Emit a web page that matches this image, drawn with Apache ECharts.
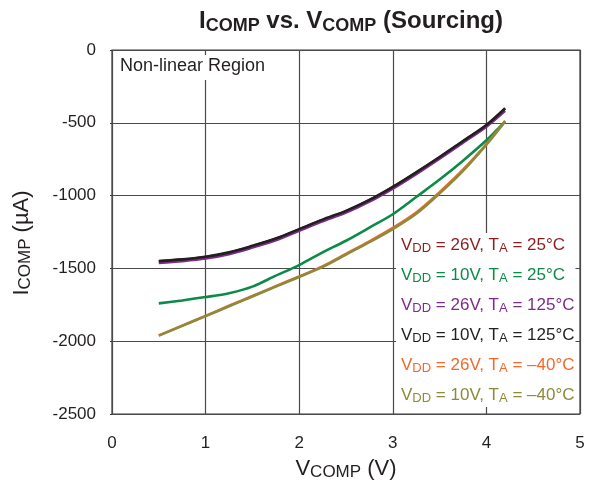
<!DOCTYPE html>
<html><head><meta charset="utf-8">
<script src="https://cdn.jsdelivr.net/npm/echarts@6/dist/echarts.min.js"></script>
<style>html,body{margin:0;padding:0;background:#fff}#c{width:594px;height:489px}</style>
</head><body><div id="c"></div>
<script>
const vcomp = [0.5,0.75,1,1.25,1.5,1.75,2,2.25,2.5,2.75,3,3.25,3.5,3.75,4,4.2];
const i26v25c  = [-1452,-1440,-1422,-1392,-1347,-1297,-1232,-1167,-1107,-1032,-942,-842,-737,-627,-517,-403];
const i10v25c  = [-1740,-1720,-1697,-1670,-1625,-1550,-1477,-1390,-1310,-1220,-1128,-1010,-890,-760,-620,-490];
const i26v125c = [-1463,-1450,-1432,-1402,-1357,-1307,-1242,-1177,-1117,-1042,-952,-852,-747,-637,-527,-418];
const i10v125c = [-1450,-1438,-1420,-1390,-1345,-1295,-1230,-1165,-1105,-1030,-940,-840,-735,-625,-515,-400];
const i26vm40c = [-1960,-1893,-1826,-1757,-1690,-1622,-1555,-1486,-1400,-1314,-1222,-1116,-976,-822,-646,-488];
const i10vm40c = [-1962,-1895,-1828,-1760,-1693,-1625,-1559,-1490,-1405,-1320,-1230,-1125,-985,-830,-650,-490];
const xTicks = [0,1,2,3,4,5];
const yTicks = [0,-500,-1000,-1500,-2000,-2500];

const seriesDefs = [
  {name:'26V|25°C', data:i26v25c, color:'#8c1c1f'},
  {name:'10V|25°C', data:i10v25c, color:'#0b8a48'},
  {name:'26V|125°C', data:i26v125c, color:'#7d2b8b'},
  {name:'10V|125°C', data:i10v125c, color:'#231f20'},
  {name:'26V|–40°C', data:i26vm40c, color:'#f26a2b'},
  {name:'10V|–40°C', data:i10vm40c, color:'#8c8a3b'}
];
const font = '"Liberation Sans", Arial, sans-serif';
const chart = echarts.init(document.getElementById('c'));
chart.setOption({
  animation:false,
  textStyle:{fontFamily:font},
  title:[{
    text:'{a|I}{b|COMP}{a| vs. V}{b|COMP}{a| (Sourcing)}',
    left:346, textAlign:'center', top:2,
    textStyle:{rich:{
      a:{fontSize:24,fontWeight:'bold',color:'#231f20',fontFamily:font,lineHeight:28},
      b:{fontSize:18,fontWeight:'bold',color:'#231f20',fontFamily:font,lineHeight:16,verticalAlign:'bottom'}
    }}
  },{
    text:'Non-linear Region', left:117, top:55,
    backgroundColor:'#fff', padding:[1,3,4,3],
    textStyle:{fontSize:18,fontWeight:'normal',color:'#231f20',fontFamily:font,lineHeight:20}
  }],
  grid:{left:112,right:14,top:50,bottom:75,show:true,borderColor:'#3a3a3a',borderWidth:1.2,backgroundColor:'transparent'},
  xAxis:{type:'value',min:0,max:5,interval:1,
    name:'{a|V}{b|COMP}{a| (V)}', nameLocation:'middle', nameGap:42,
    nameTextStyle:{rich:{
      a:{fontSize:22,color:'#231f20',fontFamily:font,lineHeight:25},
      b:{fontSize:17,color:'#231f20',fontFamily:font,lineHeight:15,verticalAlign:'bottom'}}},
    axisLine:{show:false}, axisTick:{show:false},
    axisLabel:{fontSize:17,color:'#231f20',margin:21,formatter:v=>xTicks.includes(v)?String(v):''},
    splitLine:{show:true,lineStyle:{color:'#4a4a4a',width:1.2}}
  },
  yAxis:{type:'value',min:-2500,max:0,interval:500,
    name:'{a|I}{b|COMP}{a| (µA)}', nameLocation:'middle', nameGap:78, nameRotate:90,
    nameTextStyle:{padding:[0,22,0,0],rich:{
      a:{fontSize:22,color:'#231f20',fontFamily:font,lineHeight:25},
      b:{fontSize:17,color:'#231f20',fontFamily:font,lineHeight:15,verticalAlign:'bottom'}}},
    axisLine:{show:false}, axisTick:{show:true,length:2,lineStyle:{color:'#3a3a3a'}},
    axisLabel:{fontSize:17,color:'#231f20',margin:16,formatter:v=>yTicks.includes(v)?String(v):''},
    splitLine:{show:true,lineStyle:{color:'#4a4a4a',width:1.2}}
  },
  legend:{
    orient:'vertical', left:396, top:233,
    backgroundColor:'#fff', padding:[4,1,2,0],
    icon:'none', itemWidth:0, itemHeight:14, itemGap:12,
    selectedMode:false,
    data:seriesDefs.map(s=>({name:s.name,textStyle:{color:s.color}})),
    formatter:n=>{const p=n.split('|');return '{n|V}{s|DD}{n| = '+p[0]+', T}{s|A}{n| = '+p[1]+'}';},
    textStyle:{fontFamily:font,rich:{
      n:{fontSize:17,fontFamily:font,lineHeight:19},
      s:{fontSize:13,fontFamily:font,lineHeight:12,verticalAlign:'bottom'}}}
  },
  series:seriesDefs.map(s=>({
    name:s.name,type:'line',smooth:0.3,showSymbol:false,symbol:'none',
    data:vcomp.map((x,i)=>[x,s.data[i]]),
    lineStyle:{color:s.color,width:2.6},itemStyle:{color:s.color}
  }))
});
</script></body></html>
